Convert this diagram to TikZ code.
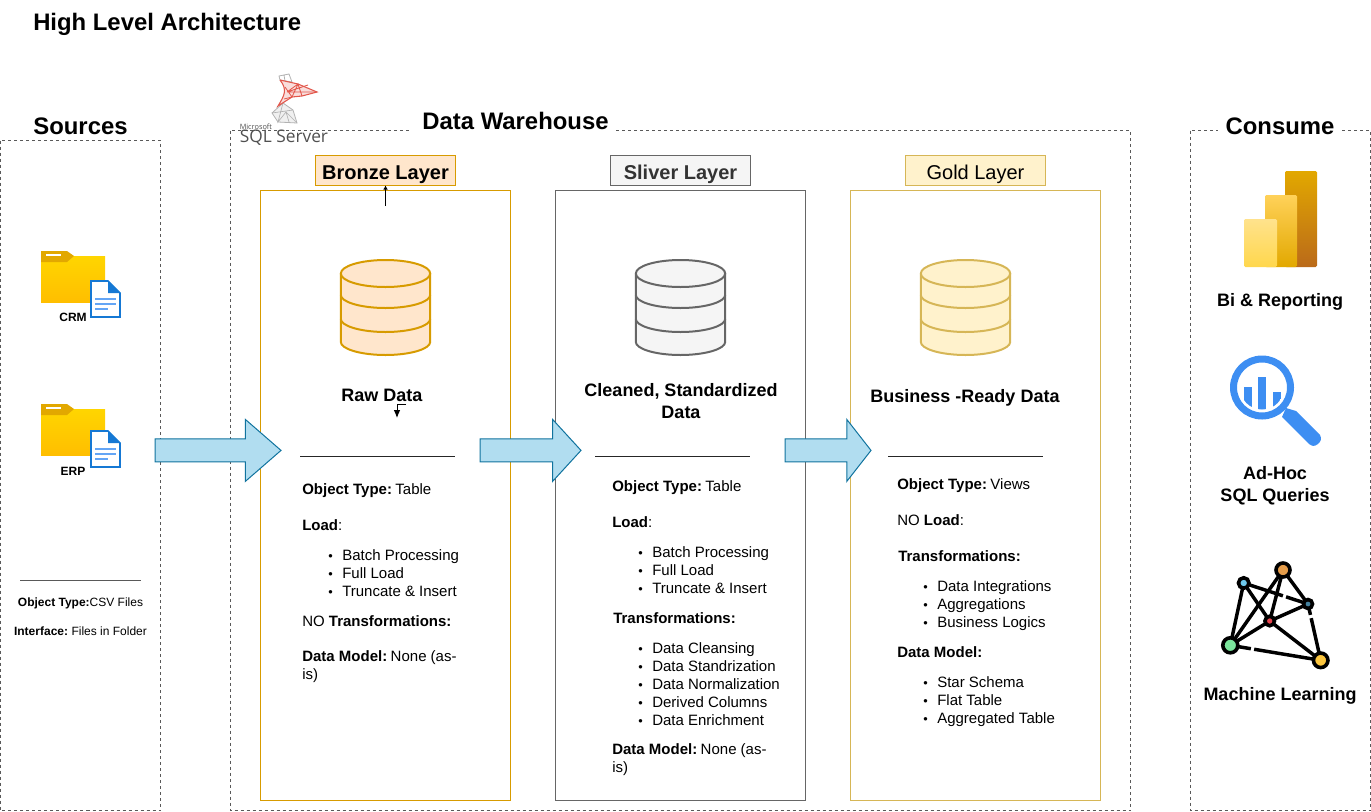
\documentclass[tikz,border=0pt]{standalone}
\usepackage{fontspec}
\setmainfont{Liberation Sans}
\newfontfamily\logofont{Open Sans}
\usetikzlibrary{positioning, shapes.arrows, arrows.meta}

\definecolor{bronzefill}{HTML}{FFE6CC}
\definecolor{bronzeline}{HTML}{D79B00}
\definecolor{silverfill}{HTML}{F5F5F5}
\definecolor{silverline}{HTML}{666666}
\definecolor{goldfill}{HTML}{FFF2CC}
\definecolor{goldline}{HTML}{D6B656}
\definecolor{arrowfill}{HTML}{B1DDF0}
\definecolor{arrowline}{HTML}{10739E}
\definecolor{docblue}{HTML}{1578D4}
\definecolor{lensblue}{HTML}{3D8EF2}
\definecolor{sailred}{HTML}{E2574C}
\definecolor{logogrey}{HTML}{505050}
\definecolor{FolderTop}{HTML}{FFD500}
\definecolor{FolderBot}{HTML}{FFBE00}
\definecolor{FolderTab}{HTML}{E2A800}

\newcommand{\px}{0.75pt}
\newcommand{\blt}{\makebox[12pt][l]{\hspace{1.5pt}\raisebox{-.5pt}{\scalebox{.85}{\textbullet}}}}
\newcommand{\hd}[1]{\textbf{#1}\hspace{2.6pt}}

\tikzset{
  titletext/.style={font=\bfseries\fontsize{17.9}{21}\selectfont, inner sep=3pt},
  bigtext/.style={font=\bfseries\fontsize{13.5}{16.5}\selectfont, align=center, inner sep=0pt},
  layertext/.style={font=\fontsize{15}{18}\selectfont, minimum width=140*\px, minimum height=30*\px, inner sep=0pt, outer sep=0pt, line width=.9pt, text height=13.2pt, text depth=0pt},
  bodytext/.style={font=\fontsize{11.25}{13.5}\selectfont, anchor=north west, align=left, inner sep=0pt, execute at begin node=\strut},
  smalltext/.style={font=\fontsize{9}{11}\selectfont, inner sep=0pt},
  layerbox/.style={anchor=north west, minimum width=250*\px, minimum height=610*\px, inner sep=0pt, outer sep=0pt, line width=.85pt},
  flowarrow/.style={single arrow, anchor=tail, draw=arrowline, fill=arrowfill, line width=.75pt, inner sep=0pt, outer sep=0pt,
    text height=22*\px, text depth=0pt, single arrow head extend=19.5*\px, single arrow head indent=0pt},
  framebox/.style={draw=black!65, dash pattern=on 2.25pt off 2.25pt, line width=.75pt},
  rulerline/.style={draw=black!85, line width=.75pt},
  neuron/.style={circle, draw=black, fill=#1, line width=2.7pt, inner sep=0pt, outer sep=0pt},
  synapse/.style={line width=2.6pt, black},
  pics/dbstack/.style n args={2}{code={
    \draw[line width=1.5pt, draw=#2, fill=#1] (-44.7,273.5) -- (-44.7,342) .. controls (-44.7,349) and (-24.6,355) .. (0,355)
      .. controls (24.6,355) and (44.7,349) .. (44.7,342) -- (44.7,273.5);
    \draw[line width=1.5pt, draw=#2, fill=#1] (0,273.5) ellipse [x radius=44.7, y radius=13.5];
    \foreach \y in {295,319} {
      \draw[line width=1.5pt, draw=#2] (-44.7,\y) .. controls (-44.7,\y+7) and (-24.6,\y+13) .. (0,\y+13)
        .. controls (24.6,\y+13) and (44.7,\y+7) .. (44.7,\y);
    }
  }},
  pics/folder/.style={code={
    \shade[top color=FolderTop, bottom color=FolderBot] (0,5) rectangle (64,51.5);
    \fill[FolderTab] (0,0) -- (26,0) -- (33,5) -- (26,11) -- (0,11) -- cycle;
    \fill[white] (5,2.5) rectangle (20,5);
  }},
  pics/page/.style={code={
    \draw[fill=white, draw=docblue, line width=1.2pt] (0,0) -- (17,0) -- (29,12) -- (29,36) -- (0,36) -- cycle;
    \fill[docblue] (17,0) -- (29,12) -- (17,12) -- cycle;
    \foreach \y/\xe in {18/25,23/25,28/17} {
      \draw[line width=1.7pt, color=lensblue!80] (4,\y) -- (\xe,\y);
    }
  }}
}

\begin{document}
\begin{tikzpicture}[x=\px, y=-\px, >=latex]
\useasboundingbox (0,0) rectangle (1371,811);

\node[titletext, anchor=west, inner sep=0pt] (mainTitle) at (33,24) {High Level Architecture};

% outer frames
\draw[framebox] (0.5,140.5) rectangle (160.5,810.5);
\draw[framebox] (230.5,130.5) rectangle (1130.5,810.5);
\draw[framebox] (1190.5,130.5) rectangle (1370.5,810.5);

\node[titletext] (sourcesTitle) at (80.5,126) {Sources};
\node[titletext, fill=white, inner xsep=10pt] (warehouseTitle) at (511.5,121) {Data Warehouse\kern-6pt};
\node[titletext, fill=white, inner xsep=6pt] (consumeTitle) at (1280,126) {Consume};

% sql server logo
\draw[line width=.6pt, black!30] (279,76) -- (289,74) -- (292,82) -- (280,80) -- cycle (284,75) -- (285,81);
\draw[line width=.6pt, black!30, fill=black!6] (283,103) -- (272,113) -- (278,122) -- (297,123) -- (293,110) -- cycle;
\draw[line width=.5pt, black!30] (272,113) -- (293,110) (283,103) -- (278,122) -- (286,112) -- (297,123) (286,112) -- (289,122);
\draw[line width=.8pt, sailred, fill=sailred!20] (280,80) -- (298,84) -- (317,92) -- (302,96) -- (292,97) -- (278,106) .. controls (284,96) and (288,90) .. (280,80);
\draw[line width=.6pt, sailred] (287,92) -- (298,84) -- (302,96) (287,92) -- (317,92) (285,87) -- (292,97) -- (284,99) (298,84) -- (292,97) (287,92) -- (308,85);
\node[font=\logofont\fontsize{5.5}{6}\selectfont, text=logogrey, inner sep=0pt, anchor=west] (logoVendor) at (239.5,126.5) {Microsoft};
\node[font=\logofont\fontsize{13}{16}\selectfont, text=logogrey, inner sep=0pt, anchor=west] (logoProduct) at (239.5,138) {SQL Server};

% sources
\pic at (41,251) {folder};
\pic at (91,281) {page};
\pic at (41,404) {folder};
\pic at (91,431) {page};
\node[smalltext, font=\bfseries\fontsize{9}{11}\selectfont] (crmLabel) at (73,317) {CRM};
\node[smalltext, font=\bfseries\fontsize{9}{11}\selectfont] (erpLabel) at (73,471) {ERP};
\draw[rulerline, draw=black!65] (20,580.5) -- (141,580.5);
\node[smalltext] (sourceType) at (80.5,603) {\textbf{Object Type:}CSV Files};
\node[smalltext] (sourceIface) at (80.5,631) {\hd{Interface:}Files in Folder};

% layers
\foreach \nm/\x/\lc in {bronze/260.5/bronzeline, silver/555.5/silverline, gold/850.5/goldline} {
  \node[layerbox, draw=\lc] (\nm Box) at (\x,190.5) {};
}
\node[layertext, draw=bronzeline, fill=bronzefill, font=\bfseries\fontsize{15}{18}\selectfont] (bronzeLabel) at (385.5,170.5) {Bronze Layer};
\node[layertext, draw=silverline, fill=silverfill, text=black!80, font=\bfseries\fontsize{15}{18}\selectfont] (silverLabel) at (680.5,170.5) {Sliver Layer};
\node[layertext, draw=goldline, fill=goldfill] (goldLabel) at (975.5,170.5) {Gold Layer};

\pic at (385.5,0) {dbstack={bronzefill}{bronzeline}};
\pic at (680.5,0) {dbstack={silverfill}{silverline}};
\pic at (965.5,0) {dbstack={goldfill}{goldline}};

\node[bigtext] (bronzeCaption) at (382,395) {Raw Data};
\node[bigtext] (silverCaption) at (681,401.5) {Cleaned, Standardized\\Data};
\node[bigtext] (goldCaption) at (965,398) {Business -Ready Data};

\coordinate (bronzeTail) at (385.5,206);
\draw[-{Latex[length=3pt,width=3.5pt]}, line width=.75pt] (bronzeTail) -- (bronzeLabel.south);
\coordinate (rawTail) at (406,404);
\coordinate (rawTip) at (397,418);
\draw[-{Latex[length=6pt,width=5pt]}, line width=.75pt] (rawTail) -| (rawTip);

\draw[rulerline] (300,456.5) -- (455,456.5);
\draw[rulerline] (595,456.5) -- (750,456.5);
\draw[rulerline] (888,456.5) -- (1043,456.5);

% bronze text
\node[bodytext] (bronzeType) at (302,482) {\hd{Object Type:}Table};
\node[bodytext] (bronzeLoad) at (302,518) {\textbf{Load}:};
\node[bodytext] (bronzeSteps) at (326,549) {\blt Batch Processing\\\blt Full Load\\\blt Truncate \& Insert};
\node[bodytext] (bronzeTrans) at (302,614) {NO \textbf{Transformations:}};
\node[bodytext] (bronzeModel) at (302,650.5) {\hd{Data Model:}None (as-\\is)};

% silver text
\node[bodytext] (silverType) at (612,479) {\hd{Object Type:}Table};
\node[bodytext] (silverLoad) at (612,515) {\textbf{Load}:};
\node[bodytext] (silverSteps) at (636,546) {\blt Batch Processing\\\blt Full Load\\\blt Truncate \& Insert};
\node[bodytext] (silverTrans) at (613,611) {\textbf{Transformations:}};
\node[bodytext] (silverJobs) at (636,642) {\blt Data Cleansing\\\blt Data Standrization\\\blt Data Normalization\\\blt Derived Columns\\\blt Data Enrichment};
\node[bodytext] (silverModel) at (612,743.5) {\hd{Data Model:}None (as-\\is)};

% gold text
\node[bodytext] (goldType) at (897,477) {\hd{Object Type:}Views};
\node[bodytext] (goldLoad) at (897,513) {NO \textbf{Load}:};
\node[bodytext] (goldTrans) at (898,549) {\textbf{Transformations:}};
\node[bodytext] (goldJobs) at (921,580) {\blt Data Integrations\\\blt Aggregations\\\blt Business Logics};
\node[bodytext] (goldModel) at (897,645) {\textbf{Data Model:}};
\node[bodytext] (goldTables) at (921,676) {\blt Star Schema\\\blt Flat Table\\\blt Aggregated Table};

% flow arrows
\node[flowarrow, minimum height=126*\px, single arrow tip angle=82] (flowA) at (155,450.4) {};
\node[flowarrow, minimum height=101*\px, single arrow tip angle=95] (flowB) at (480,450.4) {};
\node[flowarrow, minimum height=86*\px, single arrow tip angle=104] (flowC) at (785,450.4) {};

% power bi icon
\shade[rounded corners=1pt, top color=FolderTab, bottom color=orange!70!black!90] (1285,171) rectangle (1317,267);
\shade[rounded corners=1pt, top color=yellow!45!orange!65!white, bottom color=FolderTab] (1265,195) rectangle (1297,267);
\shade[rounded corners=1pt, top color=yellow!50!orange!45!white, bottom color=yellow!55!orange!70!white] (1244,219) rectangle (1277,267);
\node[bigtext] (biLabel) at (1280,302) {Bi \& Reporting};

% query icon
\draw[lensblue, line width=5.25pt] (1262,387.5) circle (28.5);
\begin{scope}
  \clip (1262,387.5) circle (22);
  \foreach \xa/\xb/\yt in {1244.3/1252.3/387, 1258.3/1266.3/377, 1273.3/1281/392} {
    \fill[lensblue] (\xa,\yt) rectangle (\xb,415);
  }
\end{scope}
\fill[lensblue] (1286,408) -- (1296,411) -- (1320,435) .. controls (1322,439) and (1321,441) .. (1318,444) .. controls (1314,447) and (1312,446) .. (1309,444) -- (1282,417) -- cycle;
\node[bigtext] (queryLabel) at (1275,486) {Ad-Hoc\\SQL Queries};

% network icon
\definecolor{nodeA}{HTML}{E59C4A}
\definecolor{nodeB}{HTML}{6EC8EC}
\definecolor{nodeC}{HTML}{44819F}
\definecolor{nodeD}{HTML}{E8454F}
\definecolor{nodeE}{HTML}{7BE59C}
\definecolor{nodeF}{HTML}{FCC63F}
\node[neuron=nodeA, minimum size=14*\px] (mlOrange) at (1283,570) {};
\node[neuron=nodeB, minimum size=10.5*\px] (mlCyan) at (1243.7,583) {};
\node[neuron=nodeC, minimum size=9*\px] (mlSteel) at (1308,604) {};
\node[neuron=nodeD, minimum size=9.5*\px] (mlRed) at (1269.7,621) {};
\node[neuron=nodeE, minimum size=15*\px] (mlGreen) at (1230.3,645.3) {};
\node[neuron=nodeF, minimum size=14.5*\px] (mlYellow) at (1320.7,660.3) {};
\foreach \a/\b in {mlCyan/mlGreen, mlCyan/mlRed, mlOrange/mlGreen, mlOrange/mlRed, mlOrange/mlSteel, mlSteel/mlRed, mlRed/mlGreen, mlRed/mlYellow} {
  \draw[synapse] (\a) -- (\b);
}
\draw[synapse, dash pattern=on 27pt off 2.5pt on 60pt] (mlCyan) -- (mlSteel);
\draw[synapse, dash pattern=on 5pt off 2.5pt on 60pt] (mlSteel) -- (mlYellow);
\draw[synapse, dash pattern=on 10pt off 2.5pt on 100pt] (mlGreen) -- (mlYellow);
\node[bigtext] (mlLabel) at (1280,696) {Machine Learning};

\end{tikzpicture}
\end{document}
